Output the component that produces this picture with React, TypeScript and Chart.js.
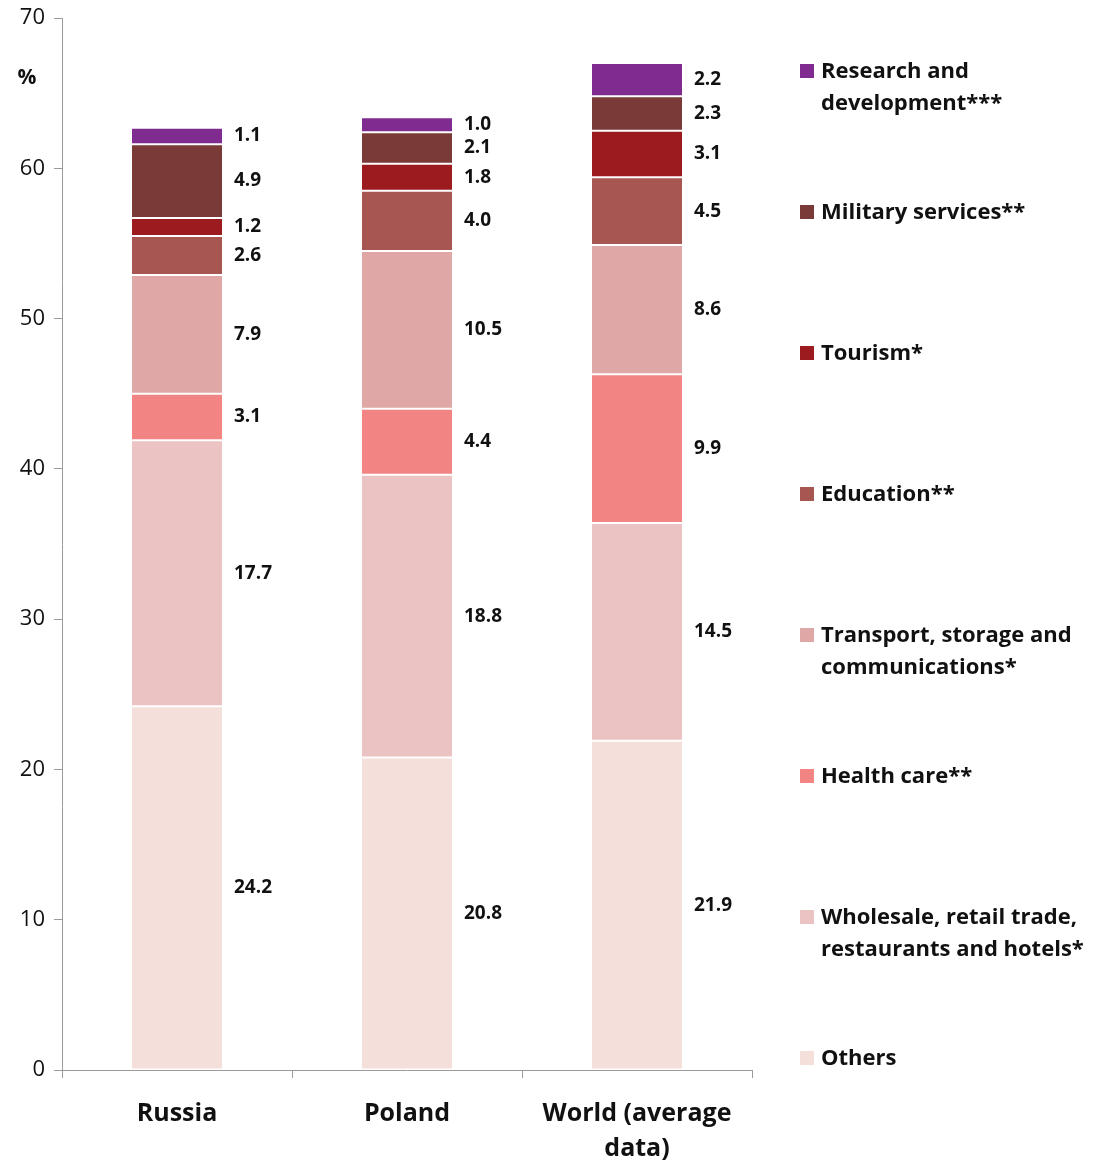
import React, { useEffect, useRef } from "react";
import { Chart, registerables } from "chart.js";

Chart.register(...registerables);

const categories: (string | string[])[] = ["Russia", "Poland", ["World (average", "data)"]];

const seriesLabels: string[][] = [
  ["Others"],
  ["Wholesale, retail trade,", "restaurants and hotels*"],
  ["Health care**"],
  ["Transport, storage and", "communications*"],
  ["Education**"],
  ["Tourism*"],
  ["Military services**"],
  ["Research and", "development***"],
];

const others = [24.2, 20.8, 21.9];
const wholesale = [17.7, 18.8, 14.5];
const healthCare = [3.1, 4.4, 9.9];
const transport = [7.9, 10.5, 8.6];
const education = [2.6, 4.0, 4.5];
const tourism = [1.2, 1.8, 3.1];
const military = [4.9, 2.1, 2.3];
const research = [1.1, 1.0, 2.2];

const seriesValues = [others, wholesale, healthCare, transport, education, tourism, military, research];

const seriesColors = [
  "#F5DFDB",
  "#EBC3C2",
  "#F28583",
  "#DFA7A5",
  "#A85652",
  "#9C1B1F",
  "#7A3A38",
  "#7F2B8F",
];

const yTicks = [0, 10, 20, 30, 40, 50, 60, 70];

const FONT = "'Open Sans', sans-serif";

const labelsPlugin = {
  id: "segLabels",
  afterDatasetsDraw(chart: any) {
    const ctx = chart.ctx;
    ctx.save();
    ctx.font = `bold 19px ${FONT}`;
    ctx.fillStyle = "#111";
    ctx.textAlign = "left";
    ctx.textBaseline = "middle";
    chart.data.datasets.forEach((ds: any, di: number) => {
      const meta = chart.getDatasetMeta(di);
      meta.data.forEach((el: any, i: number) => {
        const v = ds.data[i];
        const cy = (el.y + el.base) / 2;
        const x = el.x + el.width / 2 + 11;
        ctx.fillText(Number(v).toFixed(1), x, cy);
      });
    });
    ctx.restore();
  },
};

const legendPlugin = {
  id: "sideLegend",
  afterDraw(chart: any) {
    const ctx = chart.ctx;
    const area = chart.chartArea;
    ctx.save();
    ctx.font = `bold 21px ${FONT}`;
    ctx.fillStyle = "#111";
    ctx.textAlign = "center";
    ctx.textBaseline = "middle";
    ctx.fillText("%", 19, 70);

    const n = chart.data.datasets.length;
    const x0 = area.right + 48;
    const top = 64;
    const gap = 141;
    ctx.font = `bold 22px ${FONT}`;
    ctx.textAlign = "left";
    for (let k = 0; k < n; k++) {
      const di = n - 1 - k;
      const ds = chart.data.datasets[di];
      const y = top + k * gap;
      ctx.fillStyle = ds.backgroundColor;
      ctx.fillRect(x0, y - 8, 14, 14);
      ctx.fillStyle = "#111";
      const lines: string[] = seriesLabels[di];
      lines.forEach((ln, li) => {
        ctx.fillText(ln, x0 + 21, y + li * 32);
      });
    }
    ctx.restore();
  },
};

export default function App() {
  const ref = useRef<HTMLCanvasElement | null>(null);
  useEffect(() => {
    if (!ref.current) return;
    const chart = new Chart(ref.current, {
      type: "bar",
      data: {
        labels: categories as any,
        datasets: seriesValues.map((vals, i) => ({
          label: seriesLabels[i].join(" "),
          data: vals,
          backgroundColor: seriesColors[i],
          borderColor: "rgba(255,255,255,0.22)",
          borderWidth: 1,
          borderSkipped: false,
          categoryPercentage: 1,
          barPercentage: 0.4,
        })),
      },
      options: {
        animation: false,
        responsive: true,
        maintainAspectRatio: false,
        layout: { padding: { top: 10, right: 334, left: 0, bottom: 0 } },
        plugins: {
          legend: { display: false },
          tooltip: { enabled: false },
        },
        scales: {
          x: {
            stacked: true,
            grid: {
              display: true,
              drawOnChartArea: false,
              drawTicks: true,
              tickLength: 8,
              color: "#9a9a9a",
              offset: true,
            },
            border: { display: true, color: "#9a9a9a", width: 1 },
            ticks: {
              color: "#111",
              font: { family: FONT, size: 25, weight: "bold", lineHeight: 1.38 },
              padding: 19,
              maxRotation: 0,
              autoSkip: false,
            },
            afterFit: (s: any) => {
              s.height = 95;
              s.paddingLeft = 0;
              s.paddingRight = 0;
            },
          },
          y: {
            stacked: true,
            min: 0,
            max: 70,
            afterBuildTicks: (s: any) => {
              s.ticks = yTicks.map((v) => ({ value: v }));
            },
            grid: {
              display: true,
              drawOnChartArea: false,
              drawTicks: true,
              tickLength: 8,
              color: "#9a9a9a",
            },
            border: { display: true, color: "#9a9a9a", width: 1 },
            ticks: {
              color: "#111",
              font: { family: FONT, size: 22 },
              padding: 9,
            },
            afterFit: (s: any) => {
              s.width = 54;
              s.paddingTop = 0;
              s.paddingBottom = 0;
            },
          },
        },
      },
      plugins: [labelsPlugin, legendPlugin],
    });
    return () => chart.destroy();
  }, []);

  return (
    <div style={{ position: "fixed", left: 8, top: 8, width: 1078, height: 1157 }}>
      <canvas ref={ref} />
    </div>
  );
}
